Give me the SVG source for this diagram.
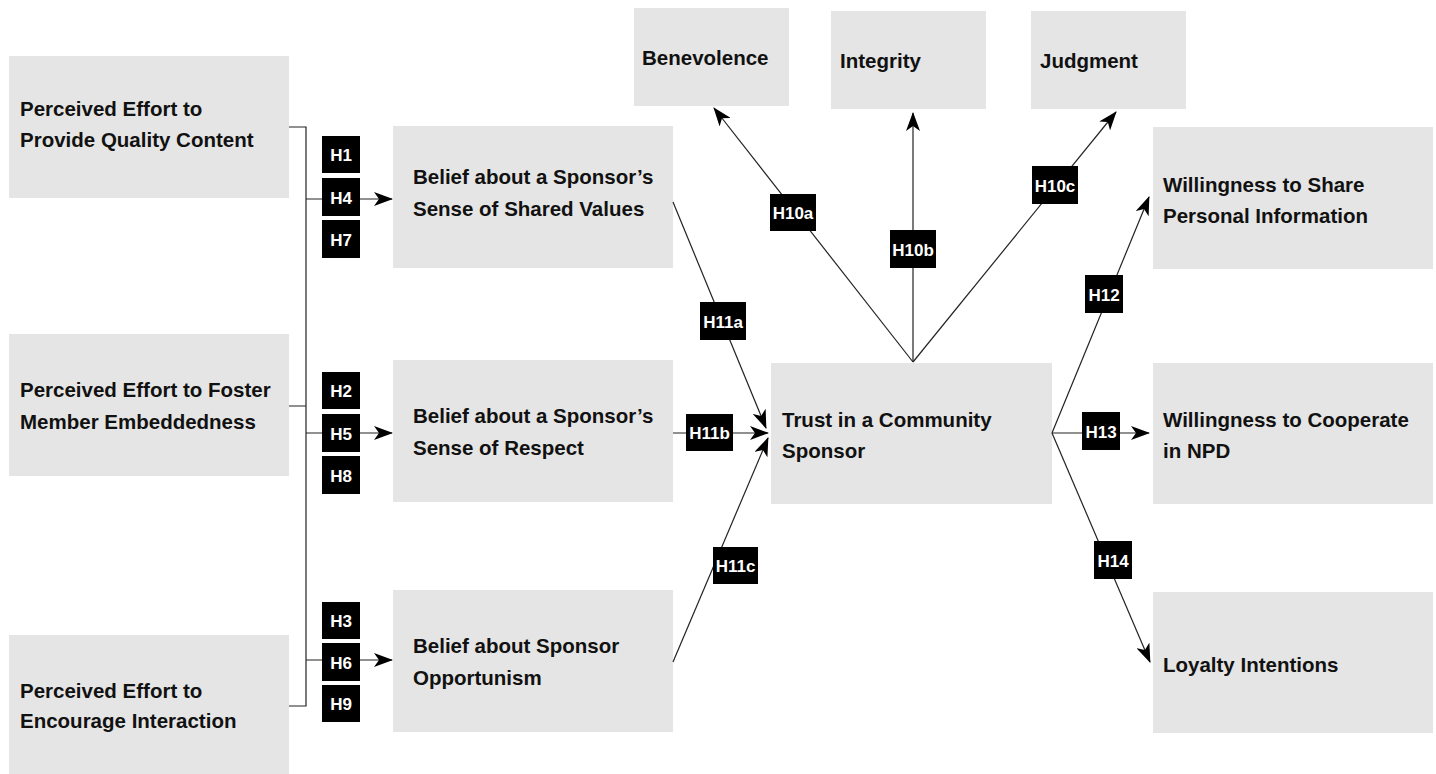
<svg xmlns="http://www.w3.org/2000/svg" width="1436" height="774" viewBox="0 0 1436 774">
<style>
.box{fill:#e5e5e5}
.t{font-family:"Liberation Sans",Arial,sans-serif;font-weight:bold;font-size:20.5px;fill:#111}
.ln{stroke:#222;stroke-width:1.2;fill:none}
.lb{fill:#000}
.lt{font-family:"Liberation Sans",Arial,sans-serif;font-weight:bold;font-size:17px;fill:#fff;text-anchor:middle}
</style>
<defs>
<marker id="ah" markerUnits="userSpaceOnUse" markerWidth="19" markerHeight="14" refX="18" refY="7" orient="auto">
<path d="M0,0 L19,7 L0,14 L5,7 z" fill="#000"/>
</marker>
</defs>
<rect width="1436" height="774" fill="#fff"/>

<g id="n-quality"><rect class="box" x="9" y="56" width="280" height="142"/><text class="t" x="20" y="116">Perceived Effort to</text><text class="t" x="20" y="147">Provide Quality Content</text></g>
<g id="n-foster"><rect class="box" x="9" y="334" width="280" height="142"/><text class="t" x="20" y="397">Perceived Effort to Foster</text><text class="t" x="20" y="429">Member Embeddedness</text></g>
<g id="n-interaction"><rect class="box" x="9" y="635" width="280" height="142"/><text class="t" x="20" y="698">Perceived Effort to</text><text class="t" x="20" y="728">Encourage Interaction</text></g>

<g id="n-shared"><rect class="box" x="393" y="126" width="280" height="142"/><text class="t" x="413" y="184">Belief about a Sponsor’s</text><text class="t" x="413" y="216">Sense of Shared Values</text></g>
<g id="n-respect"><rect class="box" x="393" y="360" width="280" height="142"/><text class="t" x="413" y="423">Belief about a Sponsor’s</text><text class="t" x="413" y="455">Sense of Respect</text></g>
<g id="n-opportunism"><rect class="box" x="393" y="590" width="280" height="142"/><text class="t" x="413" y="653">Belief about Sponsor</text><text class="t" x="413" y="685">Opportunism</text></g>

<g id="n-benevolence"><rect class="box" x="634" y="8" width="155" height="98"/><text class="t" x="642" y="65">Benevolence</text></g>
<g id="n-integrity"><rect class="box" x="831" y="11" width="155" height="98"/><text class="t" x="840" y="68">Integrity</text></g>
<g id="n-judgment"><rect class="box" x="1031" y="11" width="155" height="98"/><text class="t" x="1040" y="68">Judgment</text></g>

<g id="n-trust"><rect class="box" x="771" y="363" width="281" height="141"/><text class="t" x="782" y="427">Trust in a Community</text><text class="t" x="782" y="458">Sponsor</text></g>

<g id="n-share"><rect class="box" x="1153" y="127" width="280" height="142"/><text class="t" x="1163" y="192">Willingness to Share</text><text class="t" x="1163" y="223">Personal Information</text></g>
<g id="n-cooperate"><rect class="box" x="1153" y="363" width="280" height="141"/><text class="t" x="1163" y="427">Willingness to Cooperate</text><text class="t" x="1163" y="458">in NPD</text></g>
<g id="n-loyalty"><rect class="box" x="1153" y="592" width="280" height="141"/><text class="t" x="1163" y="672">Loyalty Intentions</text></g>

<g id="connectors">
<path class="ln" d="M289,127 H306 V706 H289 M289,406 H306"/>
<path class="ln" d="M306,199 H392" marker-end="url(#ah)"/>
<path class="ln" d="M306,433 H392" marker-end="url(#ah)"/>
<path class="ln" d="M306,660 H392" marker-end="url(#ah)"/>
<path class="ln" d="M673,202 L766,428" marker-end="url(#ah)"/>
<path class="ln" d="M673,433 L768,433" marker-end="url(#ah)"/>
<path class="ln" d="M673,662 L768,438" marker-end="url(#ah)"/>
<path class="ln" d="M913,362 L714,108" marker-end="url(#ah)"/>
<path class="ln" d="M913,362 L913,113" marker-end="url(#ah)"/>
<path class="ln" d="M913,362 L1116,112" marker-end="url(#ah)"/>
<path class="ln" d="M1052,433 L1149,197" marker-end="url(#ah)"/>
<path class="ln" d="M1052,433 L1149,433" marker-end="url(#ah)"/>
<path class="ln" d="M1052,433 L1150,662" marker-end="url(#ah)"/>

<g id="labels">
<rect class="lb" x="322" y="136" width="38" height="37"/><text class="lt" x="341" y="160.5">H1</text>
<rect class="lb" x="322" y="178" width="38" height="38"/><text class="lt" x="341" y="203.5">H4</text>
<rect class="lb" x="322" y="220" width="38" height="38"/><text class="lt" x="341" y="245.5">H7</text>
<rect class="lb" x="322" y="372" width="38" height="37"/><text class="lt" x="341" y="396.5">H2</text>
<rect class="lb" x="322" y="414" width="38" height="38"/><text class="lt" x="341" y="439.5">H5</text>
<rect class="lb" x="322" y="456" width="38" height="38"/><text class="lt" x="341" y="481.5">H8</text>
<rect class="lb" x="322" y="602" width="38" height="37"/><text class="lt" x="341" y="626.5">H3</text>
<rect class="lb" x="322" y="643" width="38" height="38"/><text class="lt" x="341" y="668.5">H6</text>
<rect class="lb" x="322" y="685" width="38" height="37"/><text class="lt" x="341" y="709.5">H9</text>
<rect class="lb" x="770" y="194" width="46" height="37"/><text class="lt" x="793" y="218.5">H10a</text>
<rect class="lb" x="890" y="230" width="46" height="38"/><text class="lt" x="913" y="255.5">H10b</text>
<rect class="lb" x="1032" y="166" width="46" height="38"/><text class="lt" x="1055" y="191.5">H10c</text>
<rect class="lb" x="700" y="302" width="46" height="38"/><text class="lt" x="723" y="327.5">H11a</text>
<rect class="lb" x="686" y="414" width="47" height="37"/><text class="lt" x="709.5" y="438.5">H11b</text>
<rect class="lb" x="713" y="547" width="45" height="37"/><text class="lt" x="735.5" y="571.5">H11c</text>
<rect class="lb" x="1085" y="275" width="38" height="38"/><text class="lt" x="1104" y="300.5">H12</text>
<rect class="lb" x="1082" y="412" width="38" height="38"/><text class="lt" x="1101" y="437.5">H13</text>
<rect class="lb" x="1094" y="541" width="38" height="38"/><text class="lt" x="1113" y="566.5">H14</text>
</g>
</g>
</svg>
